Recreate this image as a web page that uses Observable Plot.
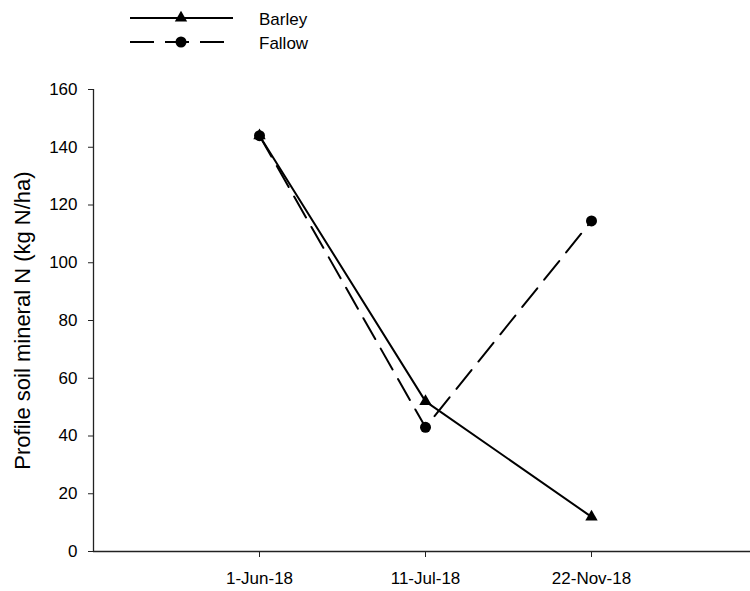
<!DOCTYPE html>
<html><head><meta charset="utf-8">
<script src="https://cdn.jsdelivr.net/npm/d3@7"></script>
<script src="https://cdn.jsdelivr.net/npm/@observablehq/plot@0.6"></script>
<style>
body{margin:0;background:#fff;}
#chart svg{overflow:visible;font-family:"Liberation Sans",Arial,sans-serif;}
</style>
</head><body><div id="chart"></div>
<script>
const dates = ["1-Jun-18", "11-Jul-18", "22-Nov-18"];
const barley = [144, 52, 12];
const fallow = [144, 43, 114.5];
const seriesNames = ["Barley", "Fallow"];
const yTicks = [0, 20, 40, 60, 80, 100, 120, 140, 160];
const yLabel = "Profile soil mineral N (kg N/ha)";

const barleyData = dates.map((d, i) => ({series: seriesNames[0], pos: i + 1, value: barley[i]}));
const fallowData = dates.map((d, i) => ({series: seriesNames[1], pos: i + 1, value: fallow[i]}));

const chart = Plot.plot({
  width: 750,
  height: 591,
  marginLeft: 93,
  marginTop: 89,
  marginBottom: 40,
  marginRight: -7,
  style: {fontFamily: '"Liberation Sans", Arial, sans-serif', color: "black", background: "white"},
  x: {domain: [0, 4]},
  y: {domain: [0, 160]},
  marks: [
    Plot.ruleY([0], {stroke: "#222", strokeWidth: 1.3}),
    Plot.ruleX([0], {stroke: "#222", strokeWidth: 1.3}),
    Plot.axisY(yTicks, {tickSize: 5, tickPadding: 11, fontSize: 17, label: null, stroke: "#222"}),
    Plot.axisX([1, 2, 3], {tickSize: 6, tickPadding: 14, fontSize: 17, label: null, tickFormat: i => dates[i - 1], stroke: "#222"}),
    Plot.text([yLabel], {frameAnchor: "left", textAnchor: "middle", rotate: -90, dx: -71, fontSize: 22, fill: "black"}),
    Plot.line(barleyData, {x: "pos", y: "value", stroke: "black", strokeWidth: 2}),
    Plot.line(fallowData, {x: "pos", y: "value", stroke: "black", strokeWidth: 2, strokeDasharray: "24,11"}),
    Plot.dot(barleyData, {x: "pos", y: "value", symbol: "triangle", fill: "black", r: 4.6}),
    Plot.dot(fallowData, {x: "pos", y: "value", symbol: "circle", fill: "black", r: 5.5})
  ]
});
document.getElementById("chart").append(chart);

// legend
const svg = d3.select(chart);
const legend = [
  {name: seriesNames[0], dash: null, symbol: d3.symbolTriangle, r: 4.6, y: 18},
  {name: seriesNames[1], dash: "24,11", symbol: d3.symbolCircle, r: 5.5, y: 42}
];
const g = svg.append("g").attr("text-anchor", "start");
legend.forEach(l => {
  g.append("line").attr("x1", 130).attr("x2", 233).attr("y1", l.y).attr("y2", l.y)
    .attr("stroke", "black").attr("stroke-width", 2).attr("stroke-dasharray", l.dash);
  g.append("path").attr("d", d3.symbol(l.symbol, Math.PI * l.r * l.r)())
    .attr("transform", `translate(181,${l.y})`).attr("fill", "black");
  g.append("text").attr("x", 259).attr("y", l.y + 1).attr("dy", "0.35em")
    .attr("text-anchor", "start").attr("font-size", 17).attr("fill", "black").text(l.name);
});
</script>
</body></html>
